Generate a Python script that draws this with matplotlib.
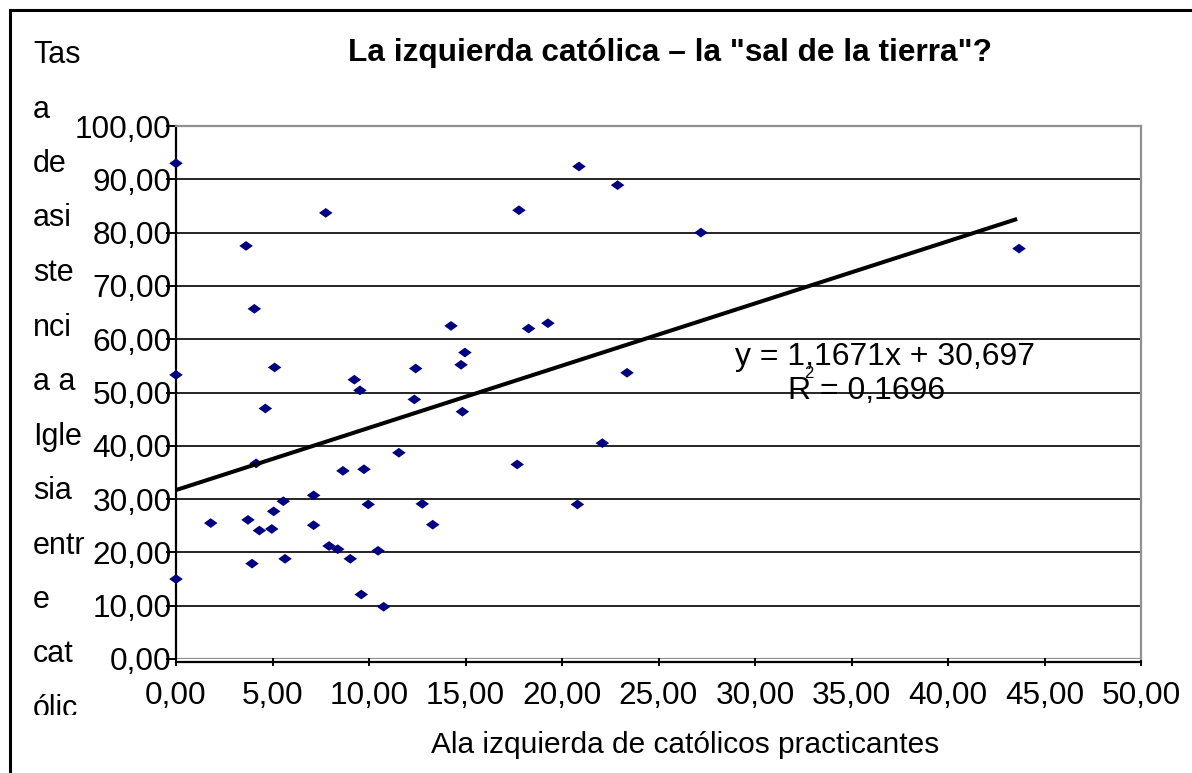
import numpy as np
import matplotlib.pyplot as plt
from matplotlib.lines import Line2D
from matplotlib.patches import Rectangle
from matplotlib.path import Path

plt.rcParams['font.family'] = ['Liberation Sans', 'DejaVu Sans']

# ala izquierda de catolicos practicantes (x) vs tasa de asistencia a iglesia (y)
izquierda = [0.0, 0.0, 0.0, 3.63, 7.76, 4.06, 5.11, 4.63, 9.24, 9.53,
             12.42, 12.35, 14.25, 14.97, 14.77, 14.84, 4.15, 1.80, 3.73, 4.32,
             4.96, 5.06, 5.56, 3.94, 5.65, 7.13, 7.13, 7.93, 8.38, 8.65,
             9.74, 9.03, 9.96, 10.47, 9.60, 10.76, 11.55, 12.76, 13.30, 20.88,
             22.88, 17.77, 27.20, 18.27, 19.27, 23.37, 22.09, 17.68, 43.68, 20.80]
asistencia = [93.0, 53.3, 15.0, 77.5, 83.7, 65.7, 54.7, 47.0, 52.4, 50.4,
              54.5, 48.7, 62.5, 57.5, 55.2, 46.4, 36.7, 25.5, 26.1, 24.1,
              24.4, 27.7, 29.6, 17.9, 18.8, 30.7, 25.1, 21.2, 20.6, 35.3,
              35.6, 18.8, 29.0, 20.3, 12.1, 9.8, 38.7, 29.1, 25.2, 92.4,
              88.9, 84.2, 80.0, 62.0, 63.0, 53.7, 40.5, 36.5, 77.0, 29.0]

pendiente = 1.1671
ordenada = 30.697
r2 = 0.1696

xticks = np.arange(0, 55, 5)
yticks = np.arange(0, 110, 10)

ylabel_lines = ['Tas', 'a', 'de', 'asi', 'ste', 'nci', 'a a', 'Igle', 'sia',
                'entr', 'e', 'cat', 'ólic']

W, H = 1192, 773
fig = plt.figure(figsize=(W / 100, H / 100), dpi=100)

# outer chart border (only top and left visible)
fig.add_artist(Line2D([10 / W, 10 / W], [0, 1 - 10 / H], color='black', lw=2.2))
fig.add_artist(Line2D([10 / W, 1], [1 - 10 / H, 1 - 10 / H], color='black', lw=2.2))

ax = fig.add_axes([176 / W, 1 - 659 / H, (1141 - 176) / W, (659 - 126) / H])
ax.set_xlim(0, 50)
ax.set_ylim(0, 100)

for y in yticks[1:-1]:
    ax.axhline(y, color='black', lw=1.2, zorder=1)
ax.axhline(0, color='#909090', lw=1.6, zorder=1)

# excel style flat diamond
diamond = Path([(-1, 0), (0, 0.72), (1, 0), (0, -0.72), (-1, 0)],
               [Path.MOVETO, Path.LINETO, Path.LINETO, Path.LINETO, Path.CLOSEPOLY])
ax.scatter(izquierda, asistencia, marker=diamond, s=95, color='#000080',
           edgecolors='none', zorder=3, clip_on=False)

xt = np.array([0, max(izquierda) - 0.1])
ax.plot(xt, pendiente * xt + ordenada + 1.0, color='black', lw=2.9, zorder=4,
        solid_capstyle='butt')

for side in ['top', 'right']:
    ax.spines[side].set_color('#909090')
    ax.spines[side].set_linewidth(1.6)
ax.spines['left'].set_color('black')
ax.spines['left'].set_linewidth(1.6)
ax.spines['bottom'].set_color('black')
ax.spines['bottom'].set_linewidth(1.6)
ax.spines['bottom'].set_position(('outward', 2))

fmt = lambda v: ('%.2f' % v).replace('.', ',')
ax.set_xticks(xticks)
ax.set_xticklabels([fmt(v) for v in xticks])
ax.set_yticks(yticks)
ax.set_yticklabels([fmt(v) for v in yticks])
ax.tick_params(axis='y', direction='out', length=7, width=1.4, pad=-4,
               labelsize=22.7)
ax.tick_params(axis='x', direction='inout', length=6, width=1.4, pad=11,
               labelsize=22.7)

fig.text(669.5 / W, 1 - 53 / H, 'La izquierda católica – la "sal de la tierra"?',
         ha='center', va='center', fontsize=22.8, fontweight='bold')
fig.text(685 / W, 1 - 745 / H, 'Ala izquierda de católicos practicantes',
         ha='center', va='center', fontsize=21.5)

clip = Rectangle((0, 1 - 715 / H), 1, 715 / H, transform=fig.transFigure)
for i, t in enumerate(ylabel_lines):
    txt = fig.text(33 / W, 1 - (55 + 54.5 * i) / H, t, ha='left', va='center',
                   fontsize=22)
    txt.set_clip_path(clip)
    txt.set_clip_on(True)

eq = 'y = ' + ('%.4f' % pendiente).replace('.', ',') + 'x + ' + \
     ('%.3f' % ordenada).replace('.', ',')
fig.text(735 / W, 1 - 357 / H, eq, ha='left', va='center', fontsize=23)
fig.text(788 / W, 1 - 391 / H, 'R = ' + ('%.4f' % r2).replace('.', ','),
         ha='left', va='center', fontsize=23)
fig.text(804 / W, 1 - 373 / H, '2', ha='left', va='center', fontsize=12)

fig.savefig('out.png', dpi=100)
